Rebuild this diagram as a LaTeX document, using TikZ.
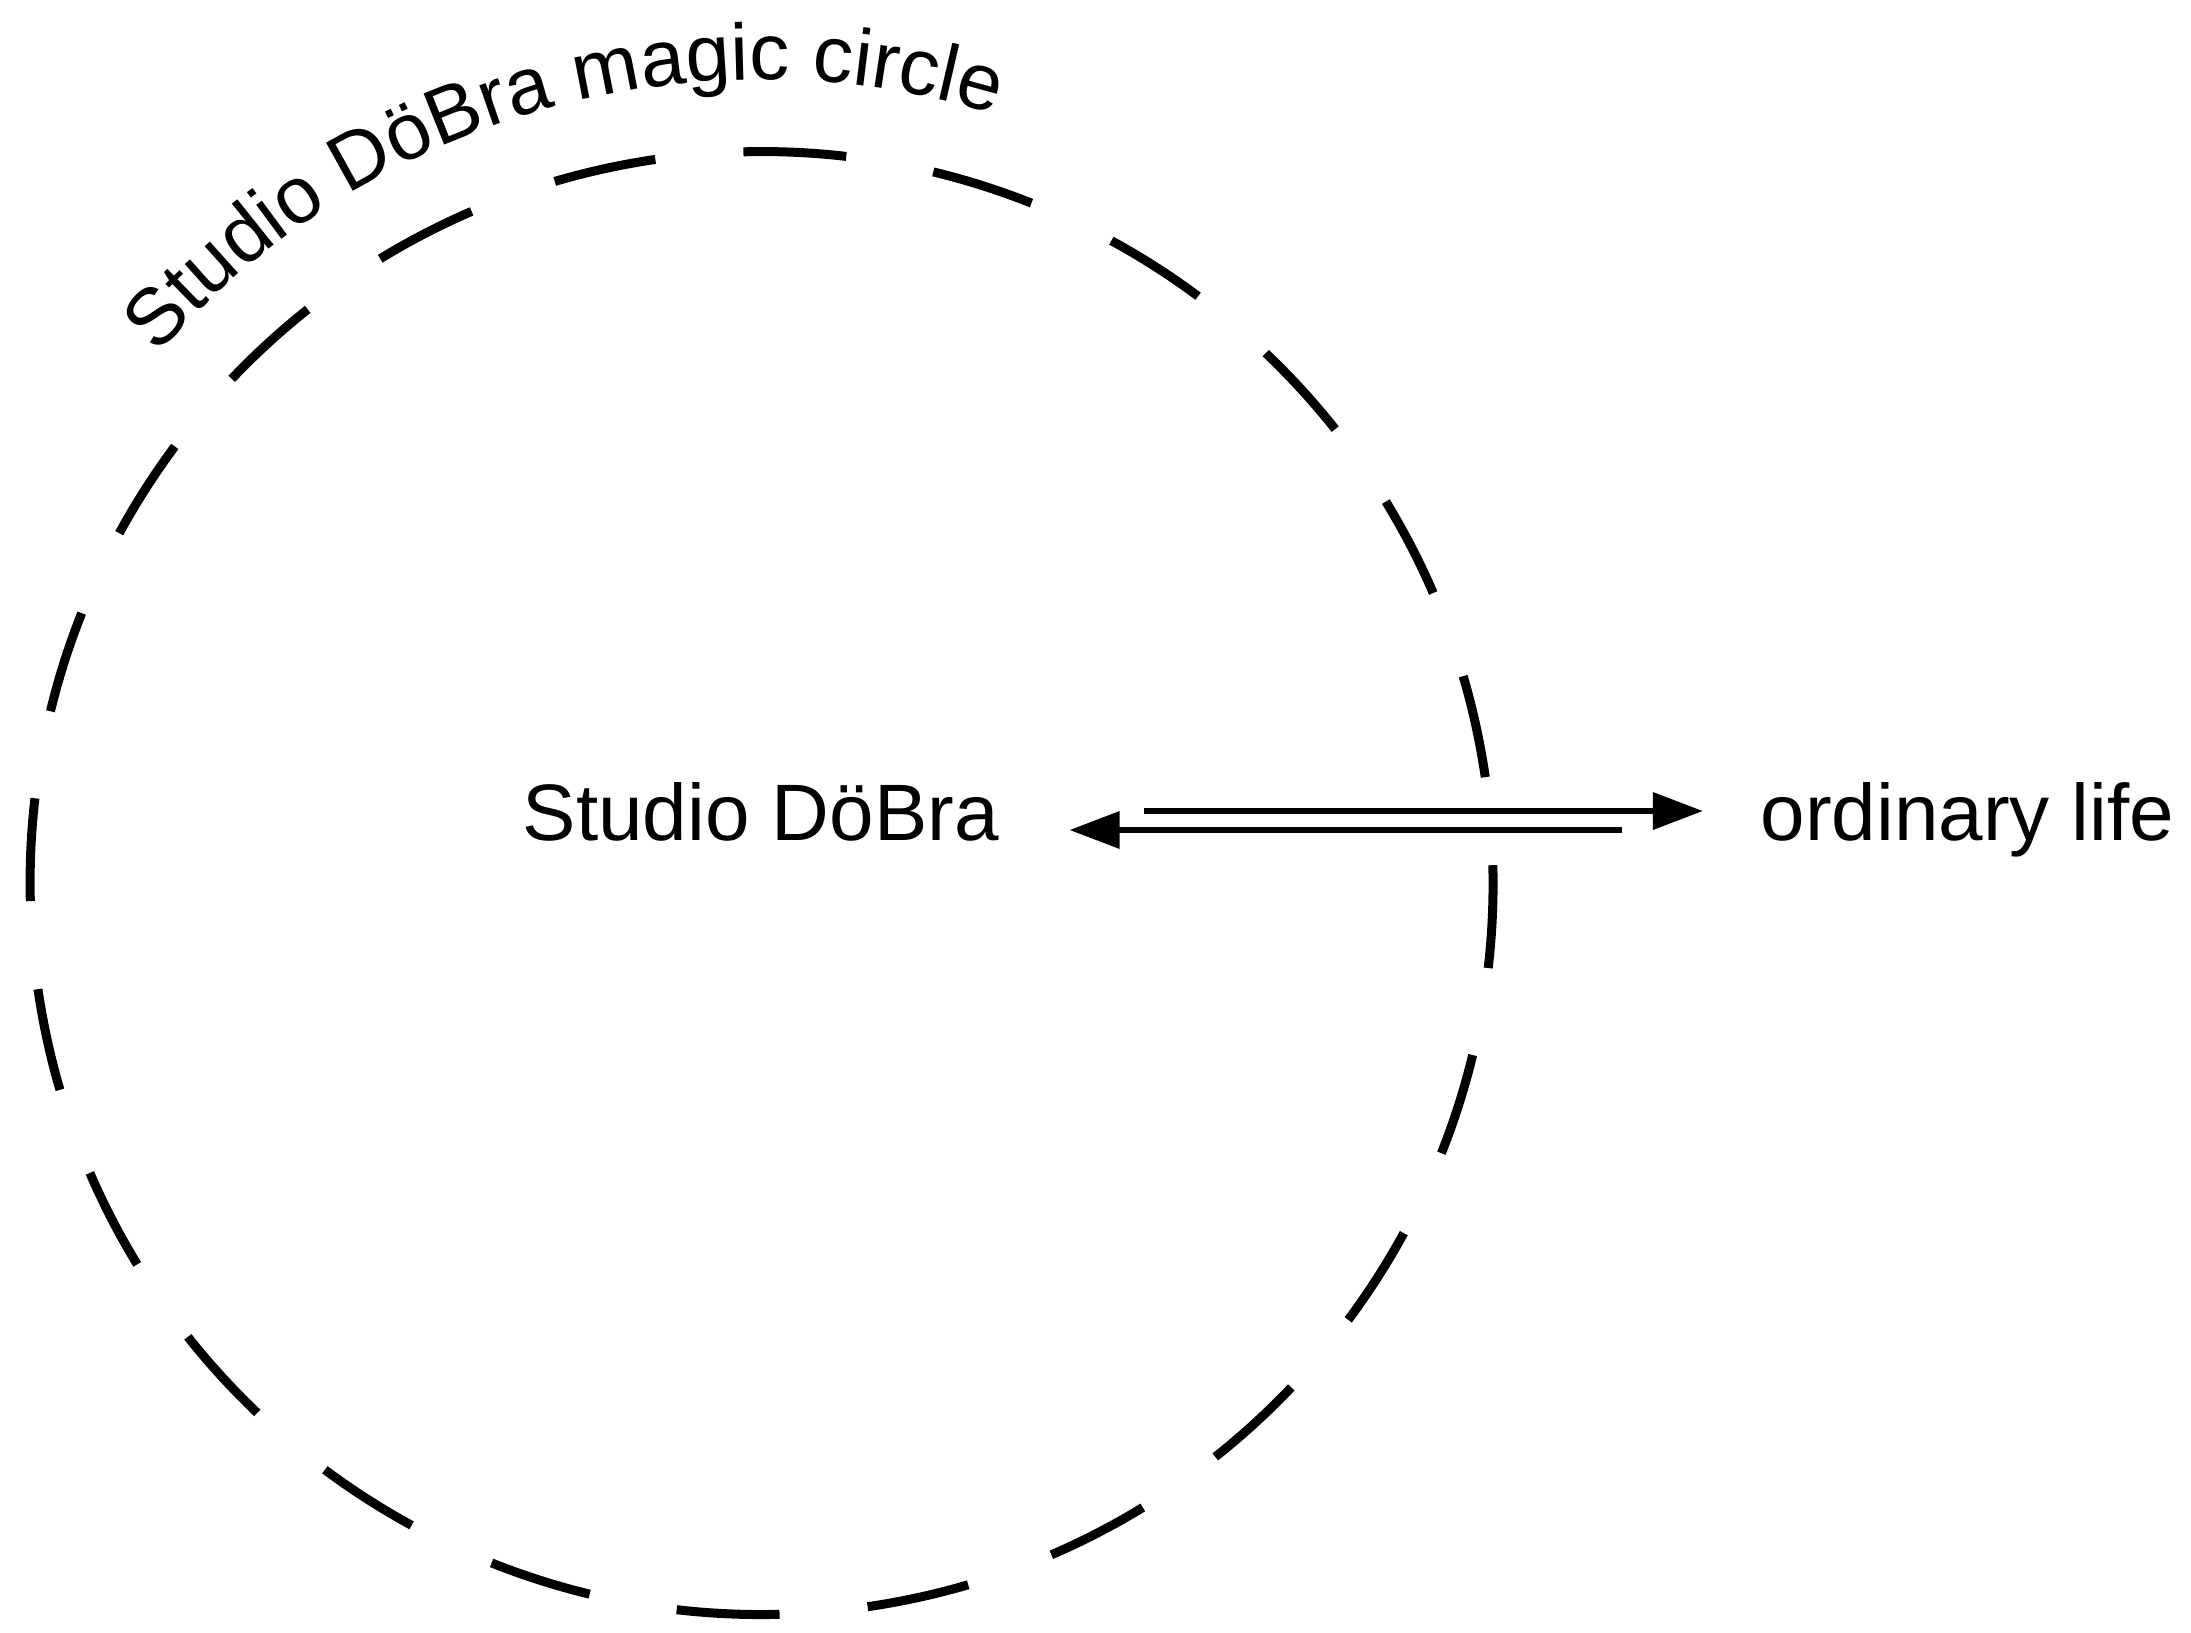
\documentclass[tikz,border=0pt]{standalone}
\usepackage{fontspec}
\setmainfont{Liberation Sans}
\usetikzlibrary{arrows.meta,calc,decorations.text}
\tikzset{
  lbl/.style={inner sep=0pt, font=\fontsize{22.76pt}{27pt}\selectfont},
  circ/.style={line width=0.09cm, dash pattern=on 1.03cm off 0.88375cm},
  arr/.style={line width=0.065cm, -{Triangle[length=0.5cm,width=0.36cm]}}
}
\begin{document}
\begin{tikzpicture}[x=0.01cm,y=0.01cm]
\useasboundingbox (0,0) rectangle (2191,1632);
\coordinate (c) at (762,749);
\draw[circ] (c) ++(8.36:731) arc[start angle=8.36, delta angle=360, radius=7.31cm];
\path[decorate, decoration={text along path, text align=center,
  text={|\fontsize{22.76pt}{27pt}\selectfont|Studio DöBra magic circle}}]
  (c) ++(159.5:803) arc[start angle=159.5, end angle=52.5, radius=8.03cm];
\node[lbl, anchor=base west] (sd) at (522,792) {Studio DöBra};
\node[lbl, anchor=base west] (ol) at (1760,792) {ordinary life};
\draw[arr] ($(sd.base east)+(145,29)$) -- ($(ol.base west)+(-57,29)$);
\draw[arr] ($(ol.base west)+(-138,10)$) -- ($(sd.base east)+(70,10)$);
\end{tikzpicture}
\end{document}
